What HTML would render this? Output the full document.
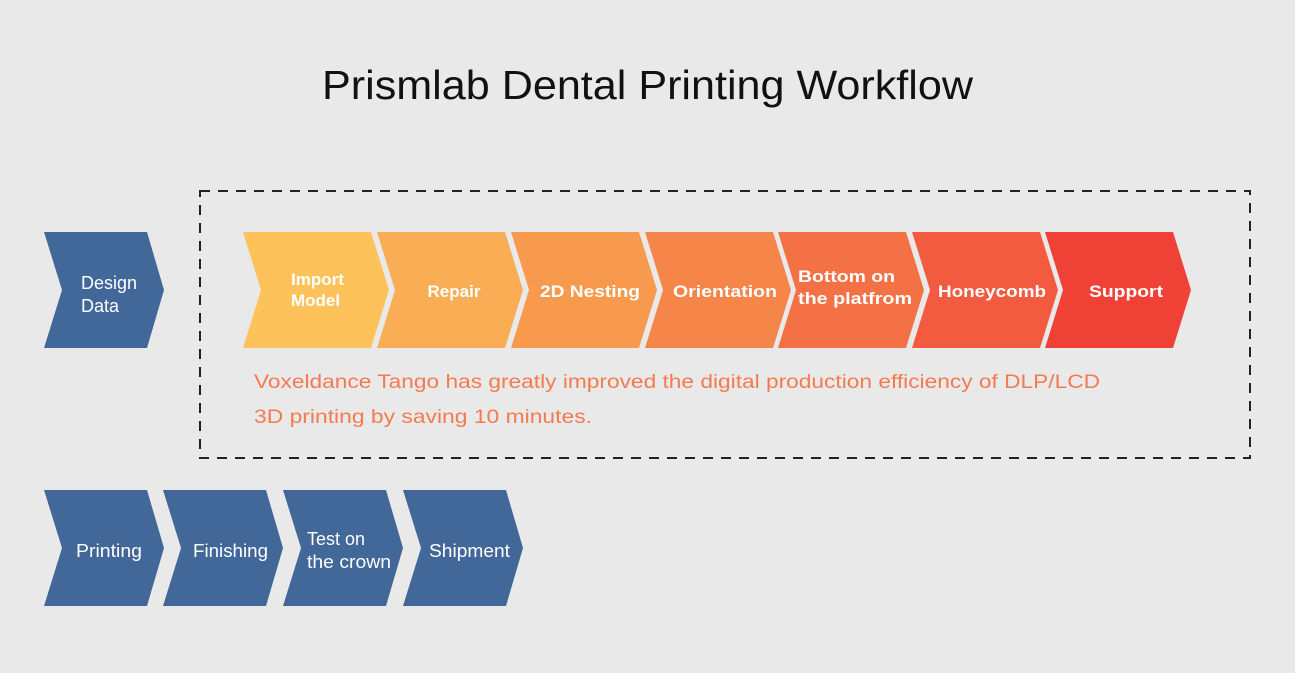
<!DOCTYPE html>
<html><head><meta charset="utf-8"><style>
html,body{margin:0;padding:0;background:#e9e9e9;}
svg{display:block}
</style></head><body>
<svg width="1295" height="673" viewBox="0 0 1295 673" xmlns="http://www.w3.org/2000/svg" font-family="'Liberation Sans', sans-serif">
<rect width="1295" height="673" fill="#e9e9e9"/>
<text x="322" y="99" textLength="651" lengthAdjust="spacingAndGlyphs" font-size="41" fill="#111">Prismlab Dental Printing Workflow</text>
<rect x="200" y="191" width="1050" height="267" fill="none" stroke="#222" stroke-width="2" stroke-dasharray="10,8"/>
<g fill="#416898">
<polygon points="44,232 147,232 164,290 147,348 44,348 62,290"/>
<polygon points="44,490 147,490 164,548 147,606 44,606 62,548"/>
<polygon points="163,490 266,490 283,548 266,606 163,606 181,548"/>
<polygon points="283,490 386,490 403,548 386,606 283,606 301,548"/>
<polygon points="403,490 506,490 523,548 506,606 403,606 421,548"/>
</g>
<g fill="#fff" font-size="18">
<text x="81" y="289">Design</text><text x="81" y="312">Data</text>
<text x="76" y="557" textLength="66" lengthAdjust="spacingAndGlyphs">Printing</text>
<text x="193" y="557" textLength="75" lengthAdjust="spacingAndGlyphs">Finishing</text>
<text x="307" y="545">Test on</text><text x="307" y="568" textLength="84" lengthAdjust="spacingAndGlyphs">the crown</text>
<text x="429" y="557" textLength="81" lengthAdjust="spacingAndGlyphs">Shipment</text>
</g>
<g>
<polygon fill="#fdc35a" points="243,232 371,232 389,290 371,348 243,348 261,290"/>
<polygon fill="#f9ad55" points="377,232 505,232 523,290 505,348 377,348 395,290"/>
<polygon fill="#f89a4e" points="511,232 639,232 657,290 639,348 511,348 529,290"/>
<polygon fill="#f6854a" points="645,232 773,232 791,290 773,348 645,348 663,290"/>
<polygon fill="#f47145" points="778,232 906,232 924,290 906,348 778,348 796,290"/>
<polygon fill="#f35b40" points="912,232 1040,232 1058,290 1040,348 912,348 930,290"/>
<polygon fill="#ef4136" points="1045,232 1173,232 1191,290 1173,348 1045,348 1063,290"/>
</g>
<g fill="#fff" font-size="17" font-weight="bold">
<text x="291" y="285">Import</text><text x="291" y="306">Model</text>
<text x="454" y="297" text-anchor="middle">Repair</text>
<text x="590" y="297" text-anchor="middle" textLength="100" lengthAdjust="spacingAndGlyphs">2D Nesting</text>
<text x="725" y="297" text-anchor="middle" textLength="104" lengthAdjust="spacingAndGlyphs">Orientation</text>
<text x="798" y="282" textLength="97" lengthAdjust="spacingAndGlyphs">Bottom on</text><text x="798" y="304" textLength="114" lengthAdjust="spacingAndGlyphs">the platfrom</text>
<text x="992" y="297" text-anchor="middle" textLength="108" lengthAdjust="spacingAndGlyphs">Honeycomb</text>
<text x="1126" y="297" text-anchor="middle" textLength="74" lengthAdjust="spacingAndGlyphs">Support</text>
</g>
<g fill="#f47b4f" font-size="19">
<text x="254" y="388" textLength="846" lengthAdjust="spacingAndGlyphs">Voxeldance Tango has greatly improved the digital production efficiency of DLP/LCD</text>
<text x="254" y="423" textLength="338" lengthAdjust="spacingAndGlyphs">3D printing by saving 10 minutes.</text>
</g>
</svg>
</body></html>
